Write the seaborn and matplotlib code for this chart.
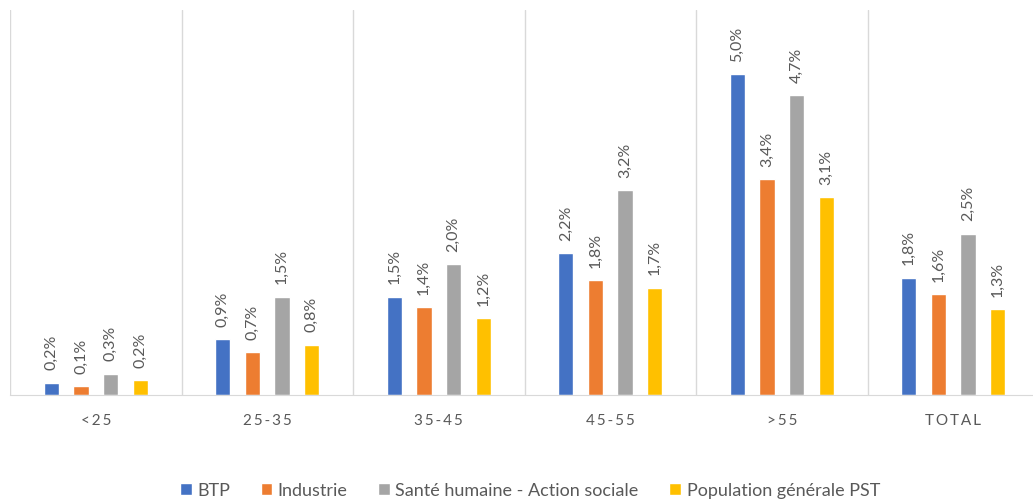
"""
grouped bar chart by age band and sector
"""

import pandas as pd
import numpy as np
import matplotlib.pyplot as plt
import seaborn as sns

# values (in %)
age_bands = ['<25', '25-35', '35-45', '45-55', '>55', 'TOTAL']
series_names = ['BTP', 'Industrie', 'Santé humaine - Action sociale', 'Population générale PST']
btp = [0.19, 0.87, 1.53, 2.21, 5.0, 1.83]
industrie = [0.14, 0.67, 1.37, 1.79, 3.36, 1.57]
sante = [0.33, 1.53, 2.04, 3.19, 4.67, 2.51]
population = [0.23, 0.78, 1.2, 1.67, 3.08, 1.34]

colors = ['#4472C4', '#ED7D31', '#A5A5A5', '#FFC000']
grey_text = '#595959'


def build_frame():
    rows = []
    for name, vals in zip(series_names, [btp, industrie, sante, population]):
        for band, v in zip(age_bands, vals):
            rows.append({'band': band, 'series': name, 'value': v})
    return pd.DataFrame(rows)


def main():
    df = build_frame()
    sns.set_style('white')
    plt.rcParams['font.family'] = ['Lato', 'DejaVu Sans']

    fig = plt.figure(figsize=(10.33, 5), dpi=100)
    ax = fig.add_axes([10 / 1033, 0.21, 1029 / 1033, 0.77])

    sns.barplot(data=df, x='band', y='value', hue='series',
                order=age_bands, hue_order=series_names,
                palette=colors, width=0.69, gap=0.49,
                saturation=1, legend=True, ax=ax)

    # rotated value labels above each bar
    for container in ax.containers:
        labels = [f'{b.get_height():.1f}%'.replace('.', ',') for b in container]
        ax.bar_label(container, labels=labels, rotation=90, padding=9,
                     fontsize=11.5, color=grey_text)

    ax.set_ylim(0, 6)
    ax.set_xlim(-0.5, len(age_bands) - 0.5)
    ax.set_yticks([])
    ax.set_xlabel('')
    ax.set_ylabel('')

    # tick labels are a little letter-spaced in the original
    ax.set_xticks(range(len(age_bands)))
    ax.set_xticklabels(['\u2009'.join(b) for b in age_bands])

    # separators between the groups
    ax.set_xticks(np.arange(-0.5, len(age_bands), 1), minor=True)
    ax.grid(True, which='minor', axis='x', color='#d9d9d9', linewidth=1)
    ax.tick_params(axis='x', which='both', length=0, pad=14,
                   labelsize=11, labelcolor=grey_text)

    for side in ['top', 'right', 'left']:
        ax.spines[side].set_visible(False)
    ax.spines['bottom'].set_color('#d9d9d9')

    handles, labels = ax.get_legend_handles_labels()
    ax.get_legend().remove()
    fig.legend(handles, labels, loc='lower center', bbox_to_anchor=(0.513, -0.03),
               ncol=4, frameon=False, fontsize=13, handlelength=0.65,
               handleheight=0.65, handletextpad=0.3, columnspacing=1.7,
               labelcolor=grey_text)

    fig.savefig('out.png', dpi=100, facecolor='white')


if __name__ == "__main__":
    main()
